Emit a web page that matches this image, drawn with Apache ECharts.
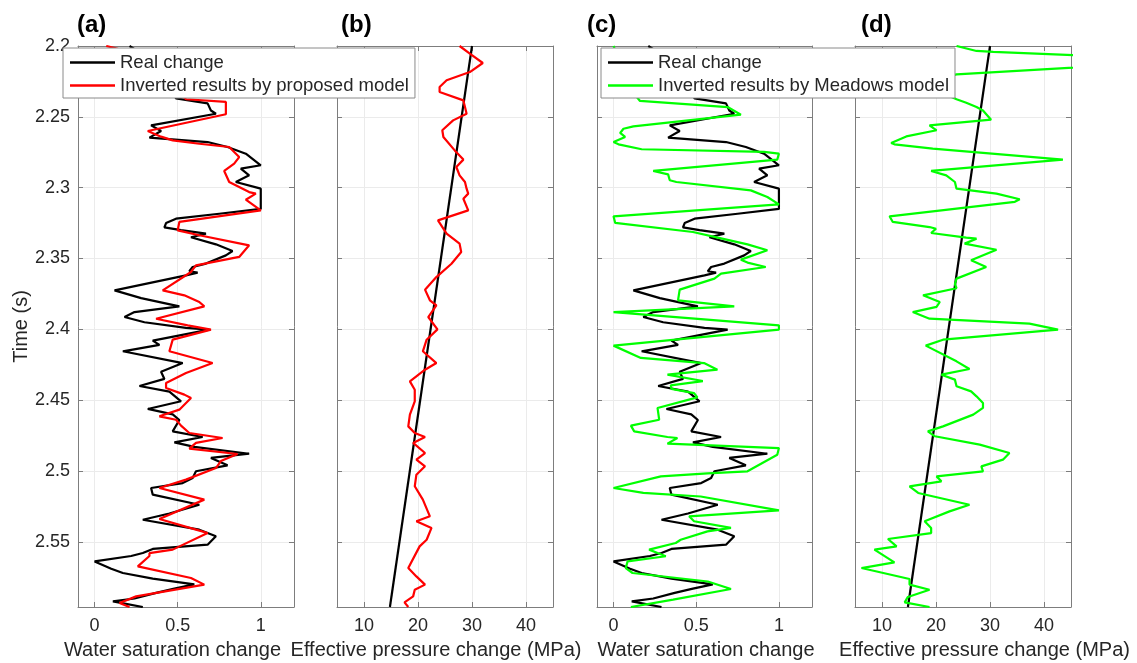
<!DOCTYPE html>
<html><head><meta charset="utf-8">
<script src="https://cdn.jsdelivr.net/npm/echarts@6/dist/echarts.min.js"></script>
<style>html,body{margin:0;padding:0;background:#fff}#c{width:1137px;height:663px}</style>
</head><body><div id="c"></div>
<script>
// ---------- data: [value, time(s)] ----------
const realSat = [[0.21,2.200],[0.25,2.203],[0.32,2.210],[0.40,2.220],[0.46,2.230],[0.49,2.237],[0.68,2.2405],[0.70,2.2455],[0.73,2.2478],[0.34,2.256],[0.40,2.260],[0.33,2.2647],[0.68,2.2678],[0.80,2.2713],[0.91,2.276],[1.00,2.2842],[0.88,2.2866],[0.93,2.2913],[0.85,2.296],[1.00,2.3007],[1.00,2.315],[0.75,2.3184],[0.49,2.3219],[0.43,2.325],[0.42,2.328],[0.52,2.330],[0.67,2.3325],[0.58,2.335],[0.73,2.340],[0.83,2.3447],[0.79,2.3478],[0.67,2.3536],[0.59,2.356],[0.57,2.359],[0.62,2.360],[0.55,2.3619],[0.12,2.3725],[0.28,2.378],[0.51,2.3838],[0.24,2.3878],[0.18,2.3913],[0.30,2.395],[0.55,2.399],[0.69,2.4002],[0.35,2.408],[0.39,2.411],[0.17,2.4155],[0.53,2.4238],[0.40,2.430],[0.42,2.435],[0.27,2.440],[0.45,2.444],[0.52,2.4508],[0.32,2.4562],[0.47,2.460],[0.51,2.464],[0.47,2.472],[0.65,2.476],[0.48,2.4798],[0.60,2.483],[0.93,2.4878],[0.70,2.4908],[0.80,2.496],[0.61,2.5002],[0.59,2.505],[0.53,2.5085],[0.34,2.512],[0.35,2.5167],[0.63,2.5238],[0.45,2.530],[0.29,2.5344],[0.63,2.5414],[0.73,2.546],[0.68,2.552],[0.35,2.555],[0.29,2.5579],[0.22,2.560],[0.00,2.5638],[0.10,2.569],[0.17,2.572],[0.35,2.576],[0.60,2.580],[0.48,2.583],[0.37,2.586],[0.24,2.590],[0.11,2.592],[0.29,2.596]];

const propSat = [[0.07,2.200],[0.14,2.202],[0.25,2.210],[0.38,2.220],[0.47,2.230],[0.55,2.2376],[0.79,2.2395],[0.79,2.2482],[0.32,2.260],[0.40,2.264],[0.47,2.2666],[0.63,2.269],[0.81,2.2713],[0.87,2.2784],[0.84,2.283],[0.78,2.2882],[0.81,2.296],[0.93,2.3031],[0.97,2.3042],[0.91,2.3085],[1.00,2.316],[0.51,2.3242],[0.50,2.3301],[0.63,2.3336],[0.93,2.3407],[0.87,2.3489],[0.61,2.3548],[0.58,2.3595],[0.41,2.3725],[0.54,2.376],[0.63,2.3807],[0.66,2.3838],[0.37,2.3925],[0.56,2.3972],[0.70,2.4002],[0.47,2.4073],[0.45,2.4155],[0.71,2.4238],[0.55,2.4308],[0.43,2.4379],[0.43,2.4414],[0.54,2.4461],[0.58,2.4485],[0.51,2.4567],[0.39,2.4614],[0.49,2.4638],[0.52,2.468],[0.57,2.4732],[0.77,2.4767],[0.61,2.4802],[0.57,2.4842],[0.86,2.488],[0.76,2.493],[0.73,2.4979],[0.55,2.5061],[0.39,2.512],[0.66,2.5202],[0.39,2.5339],[0.61,2.5414],[0.68,2.5438],[0.47,2.5555],[0.33,2.558],[0.33,2.560],[0.26,2.5673],[0.58,2.5755],[0.66,2.5802],[0.25,2.5885],[0.15,2.5932],[0.21,2.596]];

const meadSat = [[0.00,2.200],[0.05,2.215],[0.10,2.230],[0.16,2.2388],[0.69,2.2431],[0.77,2.2485],[0.12,2.2567],[0.06,2.2584],[0.04,2.2614],[0.07,2.2642],[0.00,2.2678],[0.03,2.2694],[0.17,2.2729],[0.91,2.2748],[1.00,2.276],[0.99,2.2802],[0.24,2.2882],[0.33,2.2906],[0.34,2.2948],[0.38,2.296],[0.83,2.3019],[0.93,2.3066],[1.00,2.3118],[0.00,2.3202],[0.01,2.3249],[0.48,2.3313],[0.63,2.3353],[0.81,2.340],[0.93,2.3442],[0.77,2.3508],[0.81,2.3529],[0.92,2.356],[0.65,2.3607],[0.61,2.3642],[0.40,2.372],[0.39,2.3795],[0.73,2.3838],[0.00,2.3878],[1.00,2.3972],[1.00,2.4002],[0.00,2.4115],[0.165,2.4202],[0.547,2.4238],[0.628,2.4285],[0.326,2.432],[0.54,2.4365],[0.346,2.4395],[0.35,2.442],[0.487,2.445],[0.507,2.448],[0.266,2.4555],[0.276,2.4638],[0.105,2.468],[0.125,2.472],[0.326,2.476],[0.386,2.4767],[0.326,2.4807],[1.00,2.4838],[0.99,2.4885],[0.81,2.5002],[0.568,2.5017],[0.286,2.5038],[0.00,2.512],[0.18,2.5155],[0.527,2.518],[1.00,2.5278],[0.457,2.532],[0.487,2.5355],[0.71,2.5402],[0.568,2.5426],[0.406,2.5485],[0.376,2.5508],[0.215,2.5555],[0.266,2.5579],[0.316,2.5602],[0.085,2.5638],[0.074,2.5685],[0.115,2.572],[0.57,2.578],[0.71,2.5833],[0.36,2.5908],[0.105,2.596]];

const realPres = [[30.0,2.200],[14.8,2.596]];

const propPres = [[27.7,2.200],[29.6,2.2054],[32.0,2.212],[29.6,2.2184],[25.3,2.2242],[24.0,2.2289],[24.0,2.2325],[28.4,2.2384],[28.7,2.2431],[29.0,2.2478],[26.5,2.2525],[24.5,2.2595],[24.7,2.2642],[26.8,2.2737],[28.4,2.2802],[27.1,2.2854],[27.7,2.2913],[28.7,2.296],[29.0,2.3007],[29.3,2.3042],[28.4,2.3078],[29.3,2.316],[23.7,2.3231],[25.3,2.3325],[27.7,2.3395],[28.0,2.3454],[26.2,2.3537],[23.4,2.3631],[21.3,2.372],[22.2,2.3795],[23.4,2.3831],[21.9,2.3913],[23.6,2.400],[21.6,2.4073],[20.9,2.4155],[23.4,2.4238],[21.3,2.4285],[18.5,2.4367],[19.4,2.4426],[19.4,2.4508],[18.5,2.4602],[18.2,2.4685],[19.4,2.4732],[21.3,2.476],[19.1,2.4802],[21.3,2.4873],[19.7,2.492],[21.3,2.4967],[19.7,2.5026],[19.4,2.5108],[20.9,2.5202],[22.2,2.532],[19.7,2.5355],[22.5,2.5402],[21.6,2.5485],[20.3,2.5532],[18.2,2.5685],[19.7,2.5744],[21.3,2.5802],[19.4,2.5838],[19.1,2.5885],[17.5,2.5927],[18.2,2.596]];

const meadPres = [[23.8,2.200],[27.5,2.2035],[30.6,2.2042],[70.0,2.210],[23.8,2.220],[18.0,2.226],[20.5,2.232],[23.8,2.2376],[25.6,2.240],[27.5,2.2431],[28.7,2.2455],[30.2,2.252],[18.8,2.256],[20.1,2.2595],[14.5,2.2638],[11.7,2.2685],[12.3,2.2694],[19.4,2.2725],[43.5,2.2802],[19.1,2.2882],[21.9,2.2913],[23.5,2.296],[23.8,2.3007],[31.2,2.3042],[35.5,2.3082],[34.6,2.310],[11.4,2.3202],[12.0,2.3242],[18.8,2.3278],[20.0,2.329],[19.1,2.332],[25.6,2.3353],[27.5,2.336],[25.3,2.3395],[31.2,2.3438],[26.5,2.3513],[29.3,2.356],[23.8,2.3642],[23.5,2.368],[23.8,2.371],[17.6,2.376],[20.7,2.3807],[20.1,2.3842],[15.7,2.3878],[18.8,2.3925],[37.3,2.396],[42.6,2.4002],[21.3,2.4073],[18.1,2.4115],[23.8,2.4226],[26.2,2.428],[21.0,2.432],[23.5,2.4355],[23.8,2.4402],[26.5,2.4438],[27.5,2.4473],[28.7,2.452],[28.7,2.4555],[26.9,2.4602],[21.3,2.4685],[18.5,2.472],[19.8,2.4755],[28.1,2.4814],[33.6,2.4873],[32.4,2.492],[28.4,2.4967],[28.7,2.5002],[20.1,2.5038],[21.0,2.5073],[15.1,2.5108],[16.7,2.5155],[26.2,2.5238],[22.5,2.5285],[17.9,2.5355],[19.1,2.5402],[19.1,2.5438],[11.1,2.548],[12.7,2.5532],[8.6,2.5555],[12.3,2.5645],[6.2,2.5685],[15.1,2.5762],[15.1,2.5802],[18.8,2.5838],[14.8,2.5889],[14.2,2.5927],[18.8,2.596]];

// ---------- tick labels & texts ----------
const timeTicks = [2.2, 2.25, 2.3, 2.35, 2.4, 2.45, 2.5, 2.55];
const satTicks = [0, 0.5, 1];
const presTicks = [10, 20, 30, 40];
const panelTitles = ['(a)', '(b)', '(c)', '(d)'];
const xAxisTitles = ['Water saturation change', 'Effective pressure change (MPa)', 'Water saturation change', 'Effective pressure change (MPa)'];
const legendA = ['Real change', 'Inverted results by proposed model'];
const legendC = ['Real change', 'Inverted results by Meadows model'];

// ---------- style ----------
const FONT = "'Liberation Sans', Arial, Helvetica, sans-serif";
const frameColor = '#7d7d7d';
const gridColor = '#ebebeb';
const textColor = '#262626';
const BLACK = '#000000', RED = '#ff0000', GREEN = '#00ff00';

const panels = [
  {left: 78, width: 216, kind: 'sat'},
  {left: 337, width: 216, kind: 'pres'},
  {left: 597, width: 215, kind: 'sat'},
  {left: 855, width: 216, kind: 'pres'}
];
const titleX = [77, 341, 587, 861];
const xTitleCenter = [172.5, 436, 706, 984.5];
const xRange = {sat: [-0.1, 1.2], pres: [5, 45]};
const xSplit = {sat: 3, pres: 4};
const xTickList = {sat: satTicks, pres: presTicks};

function fmt(list) {
  return function (v) {
    for (const t of list) if (Math.abs(v - t) < 1e-6) return String(t);
    return '';
  };
}

const grid = [], xAxis = [], yAxis = [];
panels.forEach((p, i) => {
  grid.push({left: p.left, top: 46, width: p.width, height: 561, containLabel: false, outerBoundsMode: 'none', show: false});
  const xb = {
    type: 'value', gridIndex: i, min: xRange[p.kind][0], max: xRange[p.kind][1], splitNumber: xSplit[p.kind],
    axisLine: {show: true, onZero: false, lineStyle: {color: frameColor, width: 1}},
    axisTick: {show: true, inside: true, length: 5, lineStyle: {color: frameColor, width: 1}}
  };
  xAxis.push(Object.assign({}, xb, {
    position: 'bottom',
    axisLabel: {show: true, formatter: fmt(xTickList[p.kind]), color: textColor, fontFamily: FONT, fontSize: 18, margin: 10},
    splitLine: {show: true, lineStyle: {color: gridColor, width: 1}}
  }));
  xAxis.push(Object.assign({}, xb, {position: 'top', axisLabel: {show: false}, splitLine: {show: false}}));
  const yb = {
    type: 'value', gridIndex: i, inverse: true, min: 2.2, max: 2.596, interval: 0.05,
    axisLine: {show: true, onZero: false, lineStyle: {color: frameColor, width: 1}},
    axisTick: {show: true, inside: true, length: 5, lineStyle: {color: frameColor, width: 1}}
  };
  yAxis.push(Object.assign({}, yb, {
    position: 'left',
    axisLabel: {show: i === 0, formatter: fmt(timeTicks), color: textColor, fontFamily: FONT, fontSize: 18, margin: 8},
    splitLine: {show: true, lineStyle: {color: gridColor, width: 1}},
    name: i === 0 ? 'Time (s)' : '', nameLocation: 'middle', nameGap: 43, nameRotate: 90,
    nameTextStyle: {color: textColor, fontFamily: FONT, fontSize: 20}
  }));
  yAxis.push(Object.assign({}, yb, {position: 'right', axisLabel: {show: false}, splitLine: {show: false}}));
});

function line(name, panel, data, color) {
  return {
    name: name, type: 'line', xAxisIndex: 2 * panel, yAxisIndex: 2 * panel, data: data,
    showSymbol: false, symbol: 'none', clip: true, animation: false, silent: true,
    lineStyle: {color: color, width: 2.2}, itemStyle: {color: color},
    emphasis: {disabled: true}
  };
}

const series = [
  line('Real change', 0, realSat, BLACK),
  line('Inverted results by proposed model', 0, propSat, RED),
  line('Real pressure b', 1, realPres, BLACK),
  line('Proposed pressure', 1, propPres, RED),
  line('Real change', 2, realSat, BLACK),
  line('Inverted results by Meadows model', 2, meadSat, GREEN),
  line('Real pressure d', 3, realPres, BLACK),
  line('Meadows pressure', 3, meadPres, GREEN)
];

const legendBase = {
  orient: 'vertical', top: 48, icon: 'rect', itemWidth: 45, itemHeight: 2.5, itemGap: 4,
  padding: [5, 6, 3, 7], backgroundColor: '#ffffff', borderColor: '#8a8a8a', borderWidth: 1, borderRadius: 0,
  selectedMode: false, z: 10,
  textStyle: {fontFamily: FONT, fontSize: 18.5, color: textColor, lineHeight: 18}
};
const legend = [
  Object.assign({}, legendBase, {data: legendA, left: 63}),
  Object.assign({}, legendBase, {data: legendC, left: 601})
];

const graphic = [];
panelTitles.forEach((t, i) => graphic.push({
  type: 'text', x: titleX[i], y: 25, z: 20,
  style: {text: t, fontSize: 24, fontWeight: 'bold', fontFamily: FONT, fill: '#000', verticalAlign: 'middle', align: 'left'}
}));
xAxisTitles.forEach((t, i) => graphic.push({
  type: 'text', x: xTitleCenter[i], y: 650, z: 20,
  style: {text: t, fontSize: 20, fontFamily: FONT, fill: textColor, verticalAlign: 'middle', align: 'center'}
}));

const chart = echarts.init(document.getElementById('c'), null, {renderer: 'canvas'});
chart.setOption({
  animation: false,
  backgroundColor: '#ffffff',
  grid: grid, xAxis: xAxis, yAxis: yAxis, series: series, legend: legend, graphic: graphic,
  tooltip: {show: false}
});
</script>
</body></html>
